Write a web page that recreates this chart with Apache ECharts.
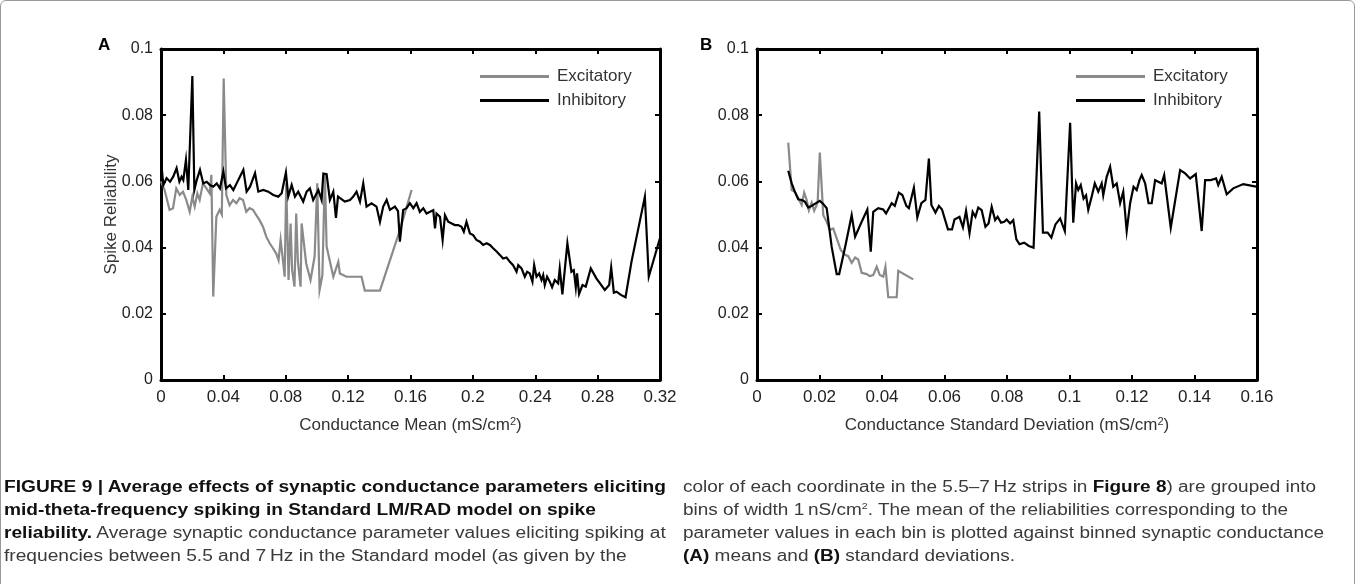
<!DOCTYPE html>
<html><head><meta charset="utf-8">
<script src="https://cdn.jsdelivr.net/npm/echarts@6/dist/echarts.min.js"></script>
<style>
html,body{margin:0;padding:0;background:#fff;width:1356px;height:584px;overflow:hidden;}
#chart{position:absolute;left:0;top:0;width:1356px;height:584px;}
#frame{position:absolute;left:0;top:0;width:1353px;height:620px;border:1px solid #9a9a9a;border-radius:6px;pointer-events:none;}
.cap{position:absolute;font-family:'Liberation Sans',Arial,Helvetica,sans-serif;font-size:16px;color:#3a3a3a;white-space:nowrap;transform-origin:0 50%;line-height:20px;}
.cap b{color:#111;}
</style></head><body>
<div id="chart"></div>
<div id="frame"></div>
<div id="caption"></div>
<script>
// ---------- data ----------
const seriesNames = ['Excitatory', 'Inhibitory'];
const yTicks = {min: 0, max: 0.1, interval: 0.02};
const xTicksMean = {min: 0, max: 0.32, interval: 0.04};
const xTicksSD = {min: 0, max: 0.16, interval: 0.02};

// Panel A: conductance mean (mS/cm^2) vs spike reliability
const excitatoryMean = [
[0.0000,0.0600],[0.0023,0.0574],[0.0055,0.0514],[0.0077,0.0519],[0.0098,0.0579],[0.0120,0.0559],[0.0141,0.0569],[0.0162,0.0544],[0.0184,0.0508],[0.0201,0.0554],[0.0216,0.0524],[0.0233,0.0564],[0.0248,0.0544],[0.0269,0.0594],[0.0291,0.0579],[0.0312,0.0564],[0.0323,0.0620],[0.0335,0.0252],[0.0355,0.0493],[0.0376,0.0514],[0.0390,0.0500],[0.0402,0.0911],[0.0419,0.0559],[0.0440,0.0528],[0.0462,0.0544],[0.0483,0.0534],[0.0504,0.0549],[0.0526,0.0544],[0.0547,0.0508],[0.0568,0.0519],[0.0590,0.0514],[0.0611,0.0498],[0.0632,0.0483],[0.0654,0.0463],[0.0675,0.0433],[0.0697,0.0413],[0.0718,0.0398],[0.0739,0.0382],[0.0754,0.0362],[0.0767,0.0423],[0.0782,0.0362],[0.0793,0.0312],[0.0803,0.0594],[0.0818,0.0302],[0.0831,0.0473],[0.0841,0.0332],[0.0856,0.0282],[0.0867,0.0503],[0.0878,0.0357],[0.0895,0.0282],[0.0902,0.0473],[0.0910,0.0468],[0.0931,0.0352],[0.0959,0.0302],[0.0985,0.0373],[0.1002,0.0594],[0.1017,0.0272],[0.1035,0.0317],[0.1051,0.0624],[0.1062,0.0403],[0.1105,0.0312],[0.1137,0.0357],[0.1147,0.0322],[0.1190,0.0312],[0.1286,0.0312],[0.1307,0.0270],[0.1404,0.0270],[0.1532,0.0453],[0.1607,0.0574]
];
const inhibitoryMean = [
[0.0004,0.0644],[0.0015,0.0589],[0.0036,0.0610],[0.0058,0.0599],[0.0079,0.0615],[0.0100,0.0640],[0.0118,0.0599],[0.0132,0.0614],[0.0143,0.0604],[0.0160,0.0665],[0.0175,0.0574],[0.0201,0.0918],[0.0214,0.0574],[0.0229,0.0604],[0.0250,0.0635],[0.0271,0.0594],[0.0293,0.0599],[0.0314,0.0589],[0.0335,0.0584],[0.0357,0.0594],[0.0378,0.0579],[0.0400,0.0630],[0.0417,0.0579],[0.0442,0.0589],[0.0464,0.0574],[0.0485,0.0594],[0.0506,0.0614],[0.0528,0.0635],[0.0549,0.0569],[0.0571,0.0584],[0.0603,0.0625],[0.0624,0.0569],[0.0656,0.0574],[0.0688,0.0569],[0.0720,0.0559],[0.0752,0.0554],[0.0774,0.0564],[0.0801,0.0627],[0.0816,0.0554],[0.0838,0.0589],[0.0859,0.0554],[0.0880,0.0569],[0.0912,0.0539],[0.0934,0.0569],[0.0955,0.0579],[0.0976,0.0544],[0.1009,0.0574],[0.1030,0.0544],[0.1041,0.0624],[0.1062,0.0622],[0.1083,0.0544],[0.1105,0.0569],[0.1122,0.0490],[0.1135,0.0554],[0.1147,0.0554],[0.1179,0.0539],[0.1212,0.0544],[0.1233,0.0554],[0.1254,0.0569],[0.1276,0.0539],[0.1297,0.0594],[0.1318,0.0524],[0.1350,0.0534],[0.1382,0.0524],[0.1404,0.0478],[0.1425,0.0524],[0.1447,0.0544],[0.1468,0.0514],[0.1500,0.0524],[0.1520,0.0510],[0.1532,0.0418],[0.1553,0.0514],[0.1575,0.0519],[0.1596,0.0534],[0.1618,0.0519],[0.1639,0.0534],[0.1660,0.0508],[0.1682,0.0519],[0.1703,0.0503],[0.1725,0.0508],[0.1746,0.0513],[0.1757,0.0458],[0.1767,0.0503],[0.1789,0.0493],[0.1806,0.0423],[0.1821,0.0498],[0.1842,0.0478],[0.1864,0.0473],[0.1885,0.0468],[0.1906,0.0468],[0.1927,0.0463],[0.1942,0.0448],[0.1959,0.0478],[0.1981,0.0443],[0.2002,0.0438],[0.2023,0.0423],[0.2045,0.0418],[0.2066,0.0408],[0.2088,0.0413],[0.2109,0.0408],[0.2130,0.0398],[0.2152,0.0388],[0.2173,0.0378],[0.2194,0.0367],[0.2216,0.0370],[0.2237,0.0357],[0.2258,0.0347],[0.2280,0.0327],[0.2291,0.0347],[0.2312,0.0337],[0.2333,0.0312],[0.2348,0.0327],[0.2365,0.0322],[0.2382,0.0297],[0.2393,0.0347],[0.2408,0.0312],[0.2425,0.0322],[0.2440,0.0302],[0.2451,0.0317],[0.2461,0.0287],[0.2476,0.0312],[0.2493,0.0297],[0.2508,0.0280],[0.2525,0.0302],[0.2547,0.0292],[0.2557,0.0337],[0.2574,0.0259],[0.2606,0.0413],[0.2632,0.0327],[0.2647,0.0332],[0.2660,0.0280],[0.2668,0.0322],[0.2681,0.0260],[0.2703,0.0287],[0.2724,0.0282],[0.2756,0.0337],[0.2792,0.0307],[0.2846,0.0272],[0.2874,0.0287],[0.2887,0.0340],[0.2904,0.0264],[0.2921,0.0267],[0.2949,0.0257],[0.2979,0.0250],[0.3017,0.0357],[0.3103,0.0554],[0.3128,0.0312],[0.3200,0.0429]
];

// Panel B: conductance standard deviation (mS/cm^2) vs spike reliability
const excitatorySD = [
[0.0100,0.0717],[0.0111,0.0574],[0.0121,0.0569],[0.0132,0.0549],[0.0143,0.0529],[0.0151,0.0566],[0.0159,0.0544],[0.0166,0.0513],[0.0175,0.0536],[0.0183,0.0511],[0.0194,0.0536],[0.0201,0.0687],[0.0212,0.0498],[0.0223,0.0478],[0.0233,0.0453],[0.0244,0.0458],[0.0255,0.0428],[0.0268,0.0393],[0.0282,0.0378],[0.0292,0.0374],[0.0303,0.0354],[0.0314,0.0370],[0.0324,0.0364],[0.0335,0.0324],[0.0351,0.0320],[0.0361,0.0314],[0.0372,0.0317],[0.0383,0.0342],[0.0393,0.0317],[0.0404,0.0312],[0.0411,0.0342],[0.0420,0.0250],[0.0447,0.0250],[0.0452,0.0330],[0.0500,0.0304]
];
const inhibitorySD = [
[0.0100,0.0632],[0.0111,0.0594],[0.0121,0.0569],[0.0132,0.0546],[0.0143,0.0544],[0.0153,0.0539],[0.0164,0.0521],[0.0175,0.0526],[0.0185,0.0532],[0.0201,0.0541],[0.0212,0.0532],[0.0223,0.0519],[0.0239,0.0402],[0.0255,0.0320],[0.0263,0.0320],[0.0282,0.0402],[0.0303,0.0498],[0.0314,0.0433],[0.0335,0.0478],[0.0353,0.0515],[0.0364,0.0388],[0.0372,0.0508],[0.0388,0.0519],[0.0404,0.0515],[0.0413,0.0503],[0.0431,0.0534],[0.0441,0.0526],[0.0454,0.0566],[0.0465,0.0559],[0.0478,0.0526],[0.0486,0.0519],[0.0502,0.0581],[0.0513,0.0491],[0.0526,0.0534],[0.0539,0.0544],[0.0550,0.0669],[0.0558,0.0529],[0.0571,0.0506],[0.0582,0.0526],[0.0592,0.0515],[0.0611,0.0455],[0.0624,0.0455],[0.0632,0.0485],[0.0648,0.0493],[0.0659,0.0461],[0.0669,0.0511],[0.0680,0.0443],[0.0690,0.0508],[0.0699,0.0493],[0.0708,0.0521],[0.0719,0.0513],[0.0731,0.0463],[0.0741,0.0473],[0.0751,0.0523],[0.0762,0.0483],[0.0770,0.0493],[0.0781,0.0475],[0.0791,0.0478],[0.0799,0.0485],[0.0810,0.0473],[0.0820,0.0483],[0.0830,0.0425],[0.0840,0.0410],[0.0855,0.0415],[0.0870,0.0405],[0.0885,0.0400],[0.0903,0.0811],[0.0915,0.0445],[0.0930,0.0445],[0.0942,0.0430],[0.0955,0.0470],[0.0970,0.0488],[0.0985,0.0450],[0.1002,0.0777],[0.1012,0.0475],[0.1021,0.0594],[0.1028,0.0574],[0.1036,0.0589],[0.1045,0.0548],[0.1053,0.0558],[0.1060,0.0514],[0.1071,0.0554],[0.1081,0.0594],[0.1092,0.0569],[0.1103,0.0594],[0.1108,0.0558],[0.1119,0.0614],[0.1130,0.0644],[0.1140,0.0584],[0.1151,0.0594],[0.1162,0.0534],[0.1172,0.0569],[0.1183,0.0450],[0.1194,0.0534],[0.1205,0.0584],[0.1215,0.0574],[0.1224,0.0604],[0.1231,0.0619],[0.1242,0.0594],[0.1253,0.0534],[0.1263,0.0534],[0.1274,0.0604],[0.1284,0.0599],[0.1295,0.0594],[0.1303,0.0619],[0.1324,0.0460],[0.1354,0.0634],[0.1370,0.0624],[0.1386,0.0609],[0.1404,0.0622],[0.1423,0.0450],[0.1434,0.0604],[0.1452,0.0604],[0.1469,0.0609],[0.1476,0.0589],[0.1487,0.0614],[0.1503,0.0561],[0.1524,0.0579],[0.1556,0.0592],[0.1597,0.0584]
];

const captionLeft = [
  '<b>FIGURE 9 | Average effects of synaptic conductance parameters eliciting</b>',
  '<b>mid-theta-frequency spiking in Standard LM/RAD model on spike</b>',
  '<b>reliability.</b> Average synaptic conductance parameter values eliciting spiking at',
  'frequencies between 5.5 and 7\u2009Hz in the Standard model (as given by the'
];
const captionRight = [
  'color of each coordinate in the 5.5\u20137\u2009Hz strips in <b>Figure 8</b>) are grouped into',
  'bins of width 1\u2009nS/cm<sup style="font-size:9px;line-height:0">2</sup>. The mean of the reliabilities corresponding to the',
  'parameter values in each bin is plotted against binned synaptic conductance',
  '<b>(A)</b> means and <b>(B)</b> standard deviations.'
];

// ---------- chart ----------
const FONT = "'Liberation Sans', Arial, Helvetica, sans-serif";
const fmt = v => String(parseFloat(v.toFixed(3)));
const GRAY = '#8a8a8a';

function xAxisPair(gridIndex, ticks, name) {
  const base = {
    gridIndex, type: 'value', min: ticks.min, max: ticks.max, interval: ticks.interval,
    splitLine: {show: false},
    axisLine: {show: true, onZero: false, lineStyle: {color: '#000', width: 3}},
    axisTick: {show: true, inside: true, length: 5, lineStyle: {color: '#000', width: 2}}
  };
  return [
    Object.assign({}, base, {
      position: 'bottom',
      axisLabel: {margin: 9, fontSize: 17, color: '#222', fontFamily: FONT, formatter: fmt},
      name: name, nameLocation: 'middle', nameGap: 36, nameMoveOverlap: false,
      nameTextStyle: {fontSize: 17, color: '#333', fontFamily: FONT,
        rich: {sup: {fontSize: 11, color: '#333', fontFamily: FONT, verticalAlign: 'top', padding: [0, 0, 8, 0]}}}
    }),
    Object.assign({}, base, {position: 'top', axisLabel: {show: false}})
  ];
}
function yAxisPair(gridIndex, name) {
  const base = {
    gridIndex, type: 'value', min: yTicks.min, max: yTicks.max, interval: yTicks.interval,
    splitLine: {show: false},
    axisLine: {show: true, onZero: false, lineStyle: {color: '#000', width: 3}},
    axisTick: {show: true, inside: true, length: 5, lineStyle: {color: '#000', width: 2}}
  };
  return [
    Object.assign({}, base, {
      position: 'left',
      axisLabel: {margin: 8, fontSize: 16, color: '#222', fontFamily: FONT, formatter: fmt},
      name: name || '', nameLocation: 'middle', nameGap: 41, nameMoveOverlap: false,
      nameTextStyle: {fontSize: 17, color: '#333', fontFamily: FONT}
    }),
    Object.assign({}, base, {position: 'right', axisLabel: {show: false}})
  ];
}
function lineSeries(name, data, xi, yi, color) {
  return {
    name, type: 'line', data, xAxisIndex: xi, yAxisIndex: yi,
    symbol: 'none', showSymbol: false, smooth: false,
    lineStyle: {color, width: 2.2, join: 'miter'}, itemStyle: {color},
    emphasis: {disabled: true}, clip: true
  };
}
function legendAt(left) {
  return {
    data: seriesNames, orient: 'vertical', left, top: 68, padding: 0,
    icon: 'rect', itemWidth: 69, itemHeight: 3, itemGap: 7, selectedMode: false,
    textStyle: {fontSize: 17, color: '#333', fontFamily: FONT, padding: [0, 0, 0, 3]}
  };
}

const chart = echarts.init(document.getElementById('chart'), null, {renderer: 'canvas'});
chart.setOption({
  animation: false,
  backgroundColor: 'transparent',
  grid: [
    {left: 161, top: 49, width: 499, height: 331},
    {left: 757, top: 49, width: 500, height: 331}
  ],
  xAxis: [
    ...xAxisPair(0, xTicksMean, 'Conductance Mean (mS/cm{sup|2})'),
    ...xAxisPair(1, xTicksSD, 'Conductance Standard Deviation (mS/cm{sup|2})')
  ],
  yAxis: [
    ...yAxisPair(0, 'Spike Reliability'),
    ...yAxisPair(1, '')
  ],
  legend: [legendAt(480), legendAt(1076)],
  series: [
    lineSeries(seriesNames[0], excitatoryMean, 0, 0, GRAY),
    lineSeries(seriesNames[1], inhibitoryMean, 0, 0, '#000'),
    lineSeries(seriesNames[0], excitatorySD, 2, 2, GRAY),
    lineSeries(seriesNames[1], inhibitorySD, 2, 2, '#000')
  ],
  graphic: [
    {type: 'text', left: 98, top: 37, style: {text: 'A', font: "bold 17px " + FONT, fill: '#000'}},
    {type: 'text', left: 700, top: 37, style: {text: 'B', font: "bold 17px " + FONT, fill: '#000'}}
  ]
});

// ---------- caption ----------
const cap = document.getElementById('caption');
const lineCenters = [487, 510, 533, 556];
function placeColumn(lines, x, targetWidth) {
  const els = lines.map((html, i) => {
    const d = document.createElement('div');
    d.className = 'cap';
    d.innerHTML = html;
    d.style.left = x + 'px';
    d.style.top = (lineCenters[i] - 10) + 'px';
    cap.appendChild(d);
    return d;
  });
  const widest = Math.max(...els.map(e => e.getBoundingClientRect().width));
  const s = targetWidth / widest;
  els.forEach(e => { e.style.transform = 'scaleX(' + s + ')'; });
}
placeColumn(captionLeft, 4, 662);
placeColumn(captionRight, 683, 641);
</script>
</body></html>
